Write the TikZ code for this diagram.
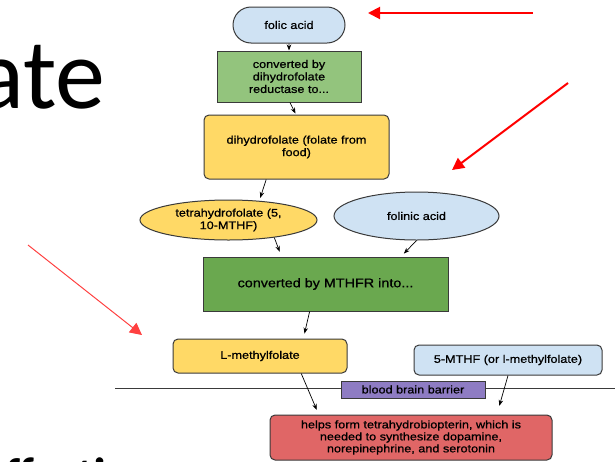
\documentclass[tikz,border=0pt]{standalone}
\usepackage{fontspec}
\setmainfont{Liberation Sans}
\newfontfamily\chartfont[FakeStretch=1.15, FakeBold=0.8]{Liberation Sans}
\newfontfamily\slidefont{Carlito}
\usetikzlibrary{arrows.meta}
\usetikzlibrary{positioning}
\usetikzlibrary{shapes.geometric}
\usetikzlibrary{shapes.misc}

\definecolor{edgeGray}{HTML}{3A3A3A}
\definecolor{paleBlue}{HTML}{CFE2F3}
\definecolor{lightGreen}{HTML}{93C47D}
\definecolor{darkGreen}{HTML}{6AA84F}
\definecolor{softYellow}{HTML}{FFD966}
\definecolor{barrierPurple}{HTML}{8E7CC3}
\definecolor{softRed}{HTML}{E06666}

\begin{document}
\begin{tikzpicture}[
    x=1pt, y=-1pt,
    every node/.style={font=\chartfont\fontsize{11}{12.5}\selectfont, align=center, inner sep=1pt},
    folateBox/.style={
        rectangle, draw=edgeGray, line width=1pt
    },
    roundBox/.style={
        folateBox, rounded corners=5pt
    },
    folateOval/.style={
        ellipse, draw=edgeGray, line width=1pt, inner sep=0pt
    },
    flowArrow/.style={-{Stealth[length=6pt,width=4.5pt]}, line width=0.7pt, shorten >=3pt},
    markArrow/.style={red, line width=2pt, -{Triangle[length=12pt,width=12pt]}}
]
\clip (0,0) rectangle (615,461);
\useasboundingbox (0,0) rectangle (615,461);

% slide text behind the chart
\node[font=\slidefont\fontsize{100}{110}\selectfont, anchor=base west, inner sep=0pt] (title) at (-24,108) {ate};
\node[font=\slidefont\bfseries\fontsize{48}{50}\selectfont, anchor=base west, inner sep=0pt] (bullet) at (5.5,491) {ffecti};

% barrier line
\coordinate (lineL) at (115,388);
\coordinate (lineR) at (615,388);
\draw[edgeGray, line width=1pt] (lineL) -- (lineR);

\node[rounded rectangle, draw=edgeGray, line width=1pt, fill=paleBlue, minimum width=114pt, minimum height=36pt] (folic) at (289,25) {folic acid};
\node[folateBox, fill=lightGreen, minimum width=144pt, minimum height=51pt] (dhfr) at (289,76.5) {converted by\\dihydrofolate\\reductase to...};
\node[roundBox, fill=softYellow, minimum width=185pt, minimum height=64pt] (dihydro) at (296.5,147) {dihydrofolate (folate from\\food)};
\node[folateOval, fill=softYellow, minimum width=177pt, minimum height=40pt] (tetra) at (228.5,220) {tetrahydrofolate (5,\\10-MTHF)};
\node[folateOval, fill=paleBlue, minimum width=165pt, minimum height=48pt] (folinic) at (416.5,216) {folinic acid};
\node[folateBox, fill=darkGreen, minimum width=245pt, minimum height=54pt, font=\chartfont\fontsize{12.5}{14}\selectfont] (mthfr) at (325.5,284) {converted by MTHFR into...};
\node[roundBox, fill=softYellow, minimum width=174pt, minimum height=34pt] (lmethyl) at (260,356) {L-methylfolate};
\node[roundBox, fill=paleBlue, minimum width=188pt, minimum height=30pt] (fivemthf) at (508,360) {5-MTHF (or l-methylfolate)};
\node[folateBox, fill=barrierPurple, minimum width=144pt, minimum height=17pt, inner sep=0pt] (bbb) at (413,389.5) {blood brain barrier};
\node[roundBox, fill=softRed, minimum width=282pt, minimum height=45pt, inner sep=0pt, font=\chartfont\fontsize{11}{12}\selectfont] (bh4) at (411,437.5) {helps form tetrahydrobiopterin, which is\\needed to synthesize dopamine,\\norepinephrine, and serotonin};

\draw[flowArrow, shorten >=0pt] (folic) -- (dhfr);
\draw[flowArrow, shorten >=1pt] (dhfr.272) -- (dihydro.91);
\draw[flowArrow] (dihydro.227) -- (tetra.32);
\draw[flowArrow, shorten >=5pt] (tetra.-21) -- (mthfr.148);
\draw[flowArrow, shorten >=4pt] (folinic.south) -- (mthfr.20);
\draw[flowArrow, shorten >=5pt] (mthfr.240) -- (lmethyl.22);
\draw[flowArrow, shorten >=5pt] (lmethyl.-23) -- (bh4.166);
\draw[flowArrow, shorten >=9pt] (fivemthf.south) -- (bh4.15);

% red pointers
\coordinate (ptrA) at (533,13);
\coordinate (ptrB) at (568,83);
\coordinate (ptrC) at (28,245);
\draw[markArrow] (ptrA) -- (368,13);
\draw[markArrow] (ptrB) -- (452,170);
\draw[markArrow, red!75, line width=1pt] (ptrC) -- (142,335);
\end{tikzpicture}
\end{document}
